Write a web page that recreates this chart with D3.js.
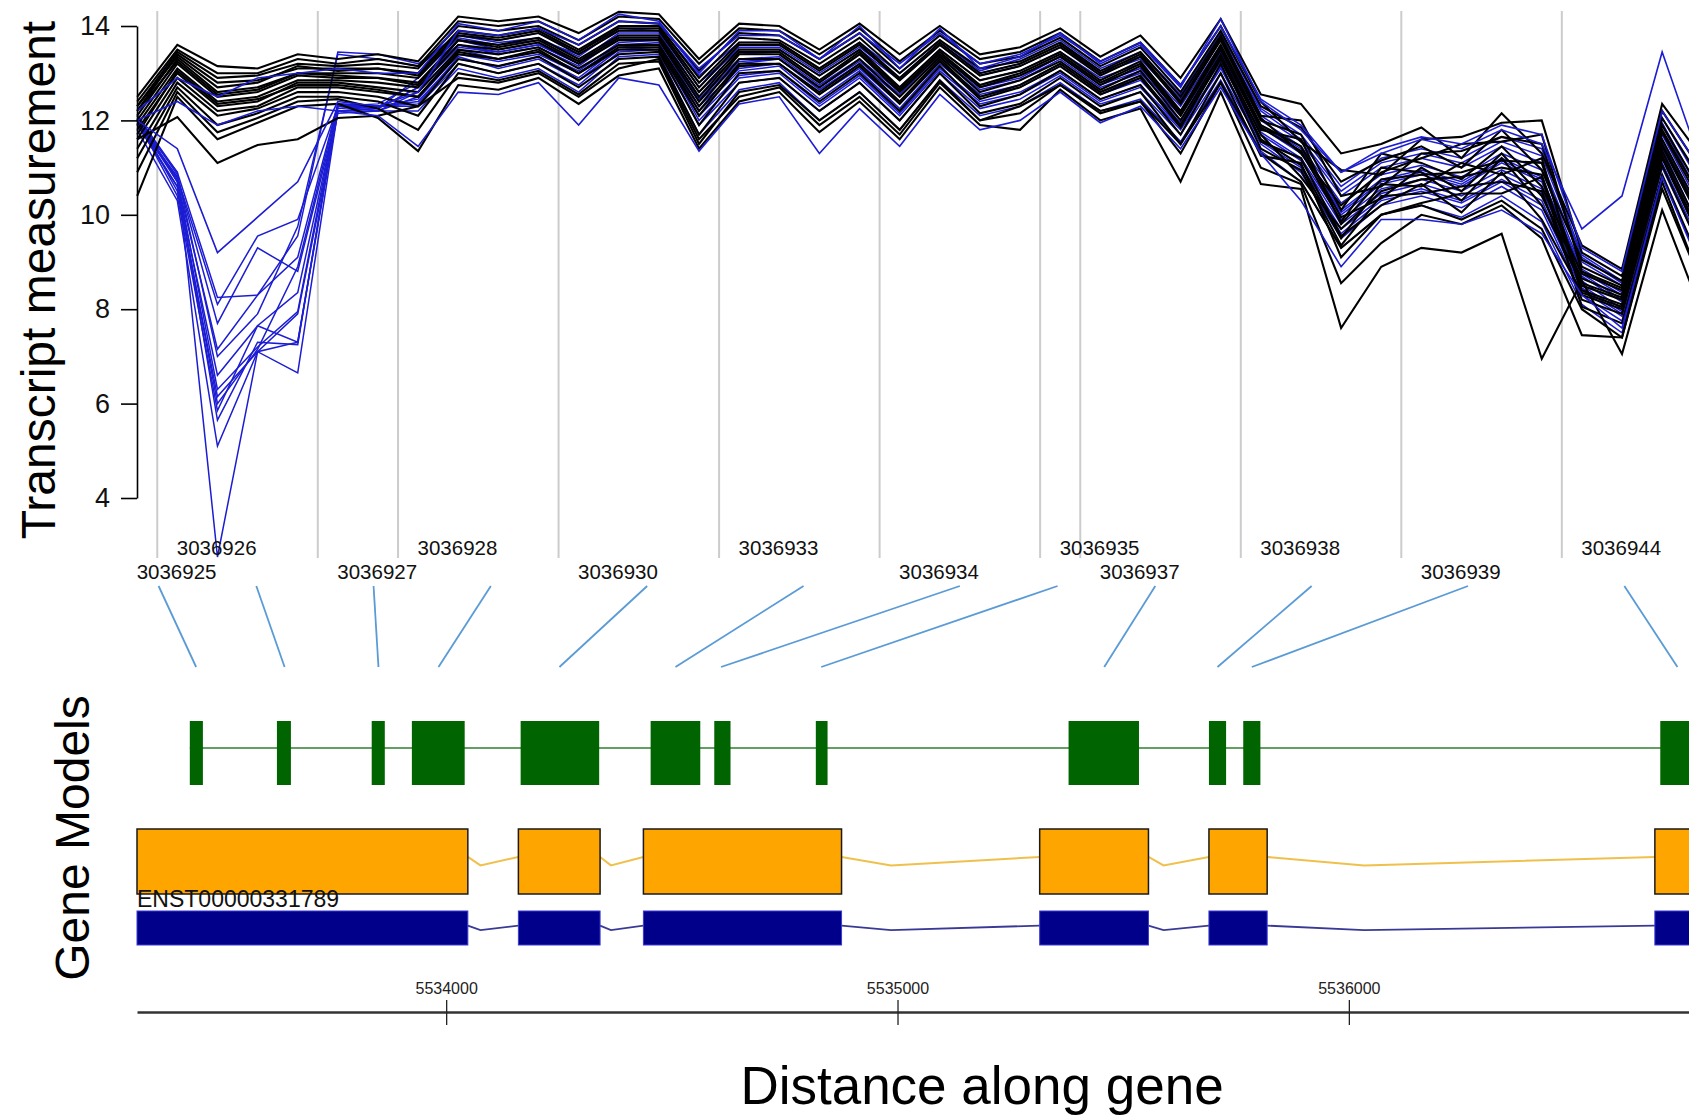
<!DOCTYPE html>
<html>
<head>
<meta charset="utf-8">
<script src="https://cdn.jsdelivr.net/npm/d3@7"></script>
<style>
  body { margin: 0; background: #fff; }
  svg { display: block; font-family: "Liberation Sans", Arial, sans-serif; }
</style>
</head>
<body>
<svg id="chart" width="1689" height="1116"></svg>
<script>
// probe sets along the top panel
var probesetIds = ["3036925","3036926","3036927","3036928","3036930","3036933","3036934","3036935","3036937","3036938","3036939","3036944"];
var probeCounts = [1,4,2,4,4,4,4,1,4,4,4,4];
// genomic position each probe set maps to (bp)
var probesetGenomicPos = [5533446,5533642,5533850,5533983,5534251,5534508,5534609,5534831,5535458,5535709,5535785,5536728];

var yTicks = [4,6,8,10,12,14];
var genomicTicks = [5534000,5535000,5536000];

// gene model (green) exons
var geneExonStart = [5533432,5533625,5533835,5533924,5534165,5534453,5534594,5534819,5535379,5535690,5535766,5536690];
var geneExonEnd   = [5533461,5533656,5533864,5534041,5534339,5534563,5534630,5534845,5535535,5535728,5535804,5537000];
// transcript exons (orange and blue tracks)
var txName = "ENST00000331789";
var txExonStart = [5533315,5534160,5534437,5535315,5535690,5536678];
var txExonEnd   = [5534048,5534341,5534876,5535556,5535819,5537000];

// black samples: one row per probe, one column per sample
var blackByProbe = [
  [12.5,12.4,12.3,12.2,12.1,12.3,12.0,11.9,12.2,11.8,11.6,11.7,11.4,11.2,10.9,10.4],
  [13.6,13.5,13.45,13.4,13.3,13.35,13.2,13.1,13.25,13.0,12.9,13.05,12.8,12.7,12.6,12.5],
  [13.15,13.0,12.9,12.8,12.6,12.7,12.5,12.4,12.55,12.3,12.2,12.35,12.1,11.9,11.75,11.6],
  [13.1,13.0,12.95,12.85,12.7,12.8,12.6,12.5,12.65,12.4,12.3,12.45,12.25,12.15,12.05,11.95],
  [13.4,13.3,13.2,13.1,13.0,13.15,12.95,12.85,13.0,12.8,12.7,12.75,12.6,12.5,12.4,12.3],
  [13.3,13.2,13.15,13.1,13.0,13.05,12.9,12.85,12.95,12.8,12.7,12.75,12.6,12.5,12.45,12.35],
  [13.4,13.3,13.2,13.1,13.0,13.1,12.9,12.8,12.9,12.7,12.6,12.65,12.5,12.4,12.25,12.05],
  [13.25,13.15,13.1,13.0,12.9,12.95,12.8,12.7,12.75,12.6,12.5,12.5,12.3,12.1,11.8,11.35],
  [14.2,14.1,14.0,13.9,13.8,13.85,13.7,13.6,13.7,13.5,13.4,13.45,13.3,13.2,13.0,12.75],
  [14.1,14.0,13.9,13.8,13.7,13.75,13.6,13.5,13.55,13.4,13.3,13.3,13.15,13.0,12.85,12.65],
  [14.2,14.1,14.0,13.95,13.85,13.9,13.75,13.65,13.7,13.55,13.45,13.5,13.35,13.2,13.05,12.9],
  [13.85,13.7,13.6,13.5,13.4,13.45,13.3,13.2,13.25,13.1,13.0,13.0,12.85,12.7,12.55,12.35],
  [14.3,14.2,14.1,14.0,13.9,13.95,13.8,13.7,13.75,13.6,13.5,13.55,13.4,13.3,13.2,12.95],
  [14.25,14.15,14.05,14.0,13.9,13.95,13.8,13.7,13.75,13.6,13.5,13.55,13.45,13.35,13.25,13.1],
  [13.3,13.2,13.05,12.9,12.7,12.8,12.6,12.4,12.5,12.3,12.1,12.2,11.9,11.7,11.5,11.4],
  [14.05,13.95,13.85,13.75,13.6,13.65,13.5,13.4,13.45,13.3,13.15,13.2,13.0,12.8,12.6,12.4],
  [14.0,13.9,13.8,13.7,13.6,13.65,13.5,13.4,13.45,13.3,13.2,13.2,13.05,12.9,12.75,12.6],
  [13.5,13.4,13.3,13.2,13.05,13.1,12.95,12.8,12.85,12.7,12.55,12.6,12.4,12.2,12.0,11.75],
  [14.05,13.95,13.85,13.75,13.6,13.65,13.5,13.4,13.45,13.3,13.15,13.2,13.0,12.8,12.6,12.4],
  [13.4,13.25,13.1,13.0,12.85,12.9,12.7,12.6,12.65,12.5,12.35,12.4,12.2,12.0,11.8,11.6],
  [14.0,13.9,13.8,13.7,13.6,13.65,13.5,13.4,13.45,13.35,13.25,13.3,13.15,13.0,12.85,12.7],
  [13.4,13.3,13.2,13.1,12.95,13.0,12.85,12.7,12.75,12.6,12.45,12.5,12.3,12.15,12.0,11.9],
  [13.55,13.45,13.35,13.25,13.15,13.2,13.05,12.95,13.0,12.85,12.7,12.75,12.55,12.35,12.15,11.8],
  [13.95,13.85,13.75,13.65,13.55,13.6,13.45,13.35,13.4,13.25,13.15,13.2,13.05,12.9,12.75,12.65],
  [13.35,13.25,13.15,13.05,12.95,13.0,12.85,12.75,12.8,12.65,12.55,12.6,12.45,12.3,12.15,12.0],
  [13.8,13.65,13.55,13.45,13.35,13.4,13.25,13.15,13.2,13.05,12.9,12.95,12.75,12.6,12.4,12.25],
  [12.9,12.75,12.6,12.5,12.35,12.4,12.2,12.1,12.15,12.0,11.85,11.9,11.7,11.5,11.3,10.7],
  [14.15,14.0,13.9,13.8,13.7,13.75,13.6,13.5,13.55,13.4,13.3,13.35,13.2,13.0,12.8,12.6],
  [12.55,12.4,12.3,12.1,12.0,12.05,11.9,11.8,11.85,11.7,11.6,11.55,11.4,11.25,11.0,10.65],
  [12.35,11.55,11.85,12.0,11.7,11.3,11.45,11.6,11.35,10.8,11.05,11.2,10.95,11.1,10.65,10.55],
  [11.3,10.95,10.7,10.4,10.1,10.2,9.95,9.8,9.85,9.7,9.5,9.55,9.35,9.1,8.55,7.6],
  [11.5,10.85,11.15,10.6,11.3,10.9,10.35,10.75,11.0,10.5,10.65,10.2,10.4,10.0,9.4,8.9],
  [11.85,11.6,11.45,11.3,11.1,11.2,11.0,10.85,10.9,10.75,10.6,10.65,10.45,10.25,10.0,9.3],
  [11.2,11.65,11.0,11.35,10.75,11.5,10.5,10.9,10.3,10.8,11.1,10.05,10.6,10.45,9.8,9.2],
  [12.15,11.95,11.8,11.65,11.45,11.55,11.3,11.15,11.2,11.0,10.85,10.9,10.7,10.45,10.2,9.6],
  [11.3,12.0,10.95,11.5,10.6,11.7,10.4,11.1,10.2,10.85,11.2,9.9,10.5,10.8,9.5,6.95],
  [9.35,9.2,9.05,8.9,8.75,8.8,8.65,8.5,8.55,8.4,8.3,8.35,8.2,8.05,7.45,8.6],
  [8.85,8.7,8.6,8.5,8.4,8.45,8.3,8.2,8.25,8.1,8.0,8.05,7.9,7.7,7.4,7.05],
  [12.35,12.2,12.05,11.9,11.75,11.8,11.6,11.45,11.5,11.35,11.2,11.25,11.05,10.85,10.55,10.1],
  [11.2,10.9,10.7,10.45,10.2,10.3,10.0,9.8,9.9,9.6,9.4,9.5,9.2,8.9,8.5,7.9]
];
// one black sample that sits below the band in 3036926
var blackLow = [11.6,12.07,11.1,11.48,11.6,12.05,12.1,12.3,12.9,12.8,13.0,12.5,13.1,13.3,11.6,12.5,12.7,11.9,12.5,11.7,12.8,12.0,12.3,12.75,12.2,12.4,11.5,12.8,11.3,10.7,9.3,10.0,10.2,9.9,10.3,9.7,8.0,7.4,10.7,8.5];

// blue samples: one row per probe
var blueByProbe = [
  [12.2,12.0,12.0,12.1,12.0,11.9,12.0,12.1,11.95,12.0,12.05,11.9,12.0,12.1,11.8,12.0],
  [12.9,12.4,11.4,10.9,10.8,10.8,10.7,10.85,10.6,10.75,10.5,10.6,10.4,10.7,10.3,10.9],
  [12.5,11.9,9.2,8.25,8.1,7.7,7.15,7.0,6.6,6.3,6.15,6.0,5.85,5.65,5.1,2.75],
  [12.9,12.2,9.95,8.3,9.55,9.3,8.3,7.9,7.65,7.2,7.1,7.15,7.65,7.3,7.1,7.1],
  [13.0,12.3,10.7,9.55,9.9,8.8,9.1,9.75,8.35,7.95,7.9,8.9,7.3,7.25,6.65,7.3],
  [13.1,12.2,12.4,13.45,12.3,12.2,12.35,13.4,12.25,12.3,12.15,12.3,12.2,12.35,12.2,12.3],
  [13.0,12.1,12.3,13.4,12.2,12.25,12.3,13.3,12.3,12.35,12.2,12.3,12.25,12.3,12.2,12.25],
  [13.0,11.45,12.6,13.2,12.5,12.7,12.4,13.15,12.3,12.8,12.6,12.45,12.9,12.35,12.2,12.7],
  [14.05,12.6,13.9,13.8,13.5,13.6,13.3,13.85,13.2,13.6,13.7,13.4,13.75,13.35,13.1,13.55],
  [13.9,12.55,13.8,13.65,13.3,13.45,13.15,13.7,13.0,13.4,13.5,13.25,13.6,13.1,12.9,13.45],
  [14.1,12.8,13.95,13.75,13.45,13.6,13.35,13.85,13.2,13.55,13.65,13.4,13.7,13.3,13.1,13.6],
  [13.7,11.9,13.6,13.35,13.05,13.2,12.9,13.45,12.75,13.15,13.25,13.0,13.4,12.85,12.6,13.2],
  [14.25,12.9,14.1,13.95,13.65,13.8,13.55,14.0,13.45,13.75,13.85,13.6,13.9,13.5,13.35,13.8],
  [14.1,12.75,14.05,13.9,13.7,13.8,13.6,14.0,13.5,13.75,13.85,13.65,13.9,13.55,13.4,13.8],
  [13.0,11.35,13.1,12.8,12.3,12.5,12.1,12.95,11.9,12.4,12.6,12.2,12.7,12.0,11.7,12.45],
  [13.9,12.35,13.8,13.5,13.1,13.3,12.95,13.65,12.8,13.2,13.4,13.05,13.55,12.9,12.65,13.25],
  [13.9,12.5,13.8,13.5,13.2,13.35,13.05,13.65,12.9,13.3,13.45,13.15,13.55,13.0,12.8,13.3],
  [13.3,11.3,13.3,12.95,12.55,12.75,12.35,13.1,12.2,12.65,12.85,12.45,13.0,12.3,12.0,12.7],
  [14.0,12.25,13.85,13.5,13.1,13.3,12.95,13.65,12.8,13.2,13.4,13.05,13.55,12.9,12.6,13.25],
  [13.1,11.45,13.2,12.85,12.35,12.6,12.15,13.0,12.0,12.5,12.7,12.25,12.9,12.1,11.8,12.55],
  [13.95,12.55,13.85,13.6,13.25,13.4,13.1,13.7,13.0,13.35,13.5,13.2,13.65,13.05,12.85,13.4],
  [13.1,11.8,13.2,12.95,12.55,12.75,12.4,13.05,12.25,12.65,12.85,12.5,13.0,12.35,12.1,12.7],
  [13.35,12.0,13.4,13.15,12.75,12.95,12.6,13.3,12.45,12.85,13.05,12.7,13.2,12.55,12.3,12.9],
  [13.85,12.6,13.8,13.55,13.2,13.35,13.05,13.7,12.95,13.3,13.45,13.15,13.6,13.0,12.8,13.35],
  [13.2,11.95,13.25,13.0,12.6,12.8,12.45,13.1,12.35,12.7,12.9,12.55,13.05,12.4,12.2,12.75],
  [13.6,12.3,13.65,13.3,12.9,13.1,12.75,13.45,12.6,13.0,13.2,12.85,13.35,12.7,12.45,13.05],
  [12.7,11.4,12.75,12.4,12.0,12.2,11.85,12.55,11.7,12.1,12.3,11.95,12.45,11.8,11.55,12.15],
  [14.15,12.7,14.0,13.7,13.3,13.5,13.15,13.85,13.0,13.4,13.6,13.25,13.75,13.1,12.85,13.45],
  [12.4,11.3,12.45,12.1,11.75,11.9,11.6,12.25,11.5,11.85,12.0,11.7,12.2,11.55,11.35,11.9],
  [11.8,10.3,11.9,11.55,11.2,11.4,11.05,11.7,10.9,11.3,11.45,11.15,11.6,11.0,10.7,11.35],
  [10.9,8.9,10.9,10.4,9.9,10.1,9.7,10.6,9.5,10.0,10.25,9.8,10.5,9.6,9.3,10.05],
  [11.3,9.9,11.4,11.0,10.55,10.75,10.35,11.2,10.2,10.65,10.85,10.45,11.1,10.3,10.0,10.7],
  [11.6,9.9,11.65,11.2,10.75,10.95,10.55,11.4,10.4,10.85,11.05,10.65,11.3,10.5,10.2,10.9],
  [11.4,9.8,11.5,11.0,10.5,10.7,10.3,11.2,10.15,10.6,10.8,10.4,11.1,10.25,9.95,10.65],
  [11.8,10.1,11.9,11.45,10.95,11.2,10.75,11.65,10.6,11.1,11.3,10.85,11.55,10.7,10.4,11.15],
  [11.5,9.6,11.7,11.1,10.55,10.8,10.3,11.4,10.1,10.7,10.95,10.45,11.25,10.2,9.85,10.75],
  [9.7,8.3,9.3,9.0,8.6,8.8,8.45,9.15,8.3,8.7,8.85,8.5,9.1,8.4,8.1,8.75],
  [10.4,7.6,8.8,8.5,8.0,8.3,7.9,8.6,7.75,8.15,8.35,7.95,8.55,7.85,7.5,8.2],
  [13.45,10.8,12.2,11.9,11.4,11.6,11.2,12.05,11.0,11.5,11.7,11.3,11.95,11.1,10.8,11.55],
  [11.0,8.8,10.9,10.3,9.6,9.9,9.4,10.6,9.2,9.8,10.1,9.5,10.4,9.3,8.9,9.85]
];

var W = 1689, H = 1116;
var svg = d3.select("#chart");
svg.append("rect").attr("width", W).attr("height", H).attr("fill", "#fff");

// scales
var y = d3.scaleLinear().domain([4, 14]).range([498, 26]);
var x = d3.scaleLinear().domain([0, 1]).range([137.2, 177.33]);   // probe index -> px
var gx = d3.scaleLinear().domain([5533315, 5537000]).range([137, 1800.2]); // bp -> px

// probe set boundaries
var cum = d3.cumsum(probeCounts);
var starts = [0].concat(Array.from(cum).slice(0, -1));

// gray separators
svg.append("g").selectAll("line")
  .data(starts.slice(1))
  .enter().append("line")
  .attr("x1", function(d){ return x(d - 0.5); })
  .attr("x2", function(d){ return x(d - 0.5); })
  .attr("y1", 11).attr("y2", 558)
  .attr("stroke", "#cccccc").attr("stroke-width", 2);

// sample lines
var line = d3.line().x(function(d, i){ return x(i); }).y(function(d){ return y(d); });
var blackSeries = d3.transpose(blackByProbe);
blackSeries.push(blackLow);
var blueSeries = d3.transpose(blueByProbe);
var blueFront = blueSeries.slice(0, 3);
var blueBack = blueSeries.slice(3);

function drawLines(data, colour, width) {
  svg.append("g").selectAll("path")
    .data(data).enter().append("path")
    .attr("d", line)
    .attr("fill", "none").attr("stroke", colour).attr("stroke-width", width);
}
drawLines(blueBack, "#1c1cd2", 1.5);
drawLines(blackSeries, "#000", 2.1);
drawLines(blueFront, "#1c1cd2", 1.6);

// y axis
var yAxis = d3.axisLeft(y).tickValues(yTicks).tickSize(16).tickSizeOuter(0).tickPadding(11);
var gy = svg.append("g").attr("transform", "translate(137,0)").call(yAxis);
gy.select(".domain").attr("stroke", "#000").attr("stroke-width", 1.6);
gy.selectAll(".tick line").attr("stroke", "#000").attr("stroke-width", 1.6);
gy.selectAll(".tick text").attr("font-size", 27).attr("fill", "#111")
  .attr("font-family", "Liberation Sans, Arial, sans-serif");

svg.append("text")
  .attr("transform", "translate(38,280) rotate(-90)")
  .attr("text-anchor", "middle").attr("dy", "0.35em")
  .attr("font-size", 48).attr("fill", "#000")
  .text("Transcript measurement");

// probe set labels, alternating between two rows
svg.append("g").selectAll("text")
  .data(probesetIds).enter().append("text")
  .attr("x", function(d, k){ return x(starts[k] - 0.5) + 19.5; })
  .attr("y", function(d, k){ return k % 2 ? 555 : 579; })
  .attr("font-size", 20.5).attr("fill", "#111")
  .text(function(d){ return d; });

// connectors from probe sets to genome
var xMid = x(20.5);
svg.append("g").selectAll("line")
  .data(probesetGenomicPos).enter().append("line")
  .attr("x1", function(d, k){
    var c = x(starts[k] + (probeCounts[k] - 1) / 2);
    return xMid + (c - xMid) * 0.974;
  })
  .attr("y1", 586)
  .attr("x2", function(d){ return gx(d); })
  .attr("y2", 667)
  .attr("stroke", "#5b9bd5").attr("stroke-width", 1.8);

// green gene model
svg.append("line")
  .attr("x1", gx(geneExonStart[0])).attr("x2", gx(geneExonEnd[geneExonEnd.length - 1]))
  .attr("y1", 748).attr("y2", 748)
  .attr("stroke", "#2f7f2f").attr("stroke-width", 1.6);
svg.append("g").selectAll("rect")
  .data(geneExonStart).enter().append("rect")
  .attr("x", function(d){ return gx(d); })
  .attr("width", function(d, k){ return gx(geneExonEnd[k]) - gx(d); })
  .attr("y", 721).attr("height", 64)
  .attr("fill", "#006400");

// transcript tracks
function intronPath(top, h) {
  var pts = [];
  for (var k = 0; k < txExonStart.length - 1; k++) {
    var a = gx(txExonEnd[k]), b = gx(txExonStart[k + 1]);
    pts.push("M" + a + "," + (top + h * 0.43) +
             "L" + (a + (b - a) * 0.25) + "," + (top + h * 0.56) +
             "L" + b + "," + (top + h * 0.43));
  }
  return pts.join("");
}

svg.append("path").attr("d", intronPath(829, 65))
  .attr("fill", "none").attr("stroke", "#f0c04c").attr("stroke-width", 2);
svg.append("g").selectAll("rect")
  .data(txExonStart).enter().append("rect")
  .attr("x", function(d){ return gx(d); })
  .attr("width", function(d, k){ return gx(txExonEnd[k]) - gx(d); })
  .attr("y", 829).attr("height", 65)
  .attr("fill", "#ffa500").attr("stroke", "#1a1a1a").attr("stroke-width", 1.5);

svg.append("path").attr("d", intronPath(911, 34))
  .attr("fill", "none").attr("stroke", "#3a3a96").attr("stroke-width", 1.8);
svg.append("g").selectAll("rect")
  .data(txExonStart).enter().append("rect")
  .attr("x", function(d){ return gx(d); })
  .attr("width", function(d, k){ return gx(txExonEnd[k]) - gx(d); })
  .attr("y", 911).attr("height", 34)
  .attr("fill", "#00008b").attr("stroke", "#3b3bd0").attr("stroke-width", 1);

svg.append("text")
  .attr("x", 137).attr("y", 907)
  .attr("font-size", 23).attr("fill", "#111")
  .text(txName);

svg.append("text")
  .attr("transform", "translate(72,838) rotate(-90)")
  .attr("text-anchor", "middle").attr("dy", "0.35em")
  .attr("font-size", 48).attr("fill", "#000")
  .text("Gene Models");

// genomic axis
var gAxis = d3.axisTop(gx).tickValues(genomicTicks).tickSize(12).tickSizeOuter(0).tickPadding(6)
  .tickFormat(d3.format("d"));
var ga = svg.append("g").attr("transform", "translate(0,1012)").call(gAxis);
ga.select(".domain").attr("stroke", "#333").attr("stroke-width", 2.5);
ga.selectAll(".tick line").attr("stroke", "#222").attr("stroke-width", 1.3);
ga.selectAll(".tick").append("line").attr("y1", 0).attr("y2", 13)
  .attr("stroke", "#222").attr("stroke-width", 1.3);
ga.selectAll(".tick text").attr("font-size", 16).attr("fill", "#222")
  .attr("font-family", "Liberation Sans, Arial, sans-serif");

svg.append("text")
  .attr("x", 982).attr("y", 1104)
  .attr("text-anchor", "middle")
  .attr("font-size", 53).attr("fill", "#000")
  .text("Distance along gene");
</script>
</body>
</html>
